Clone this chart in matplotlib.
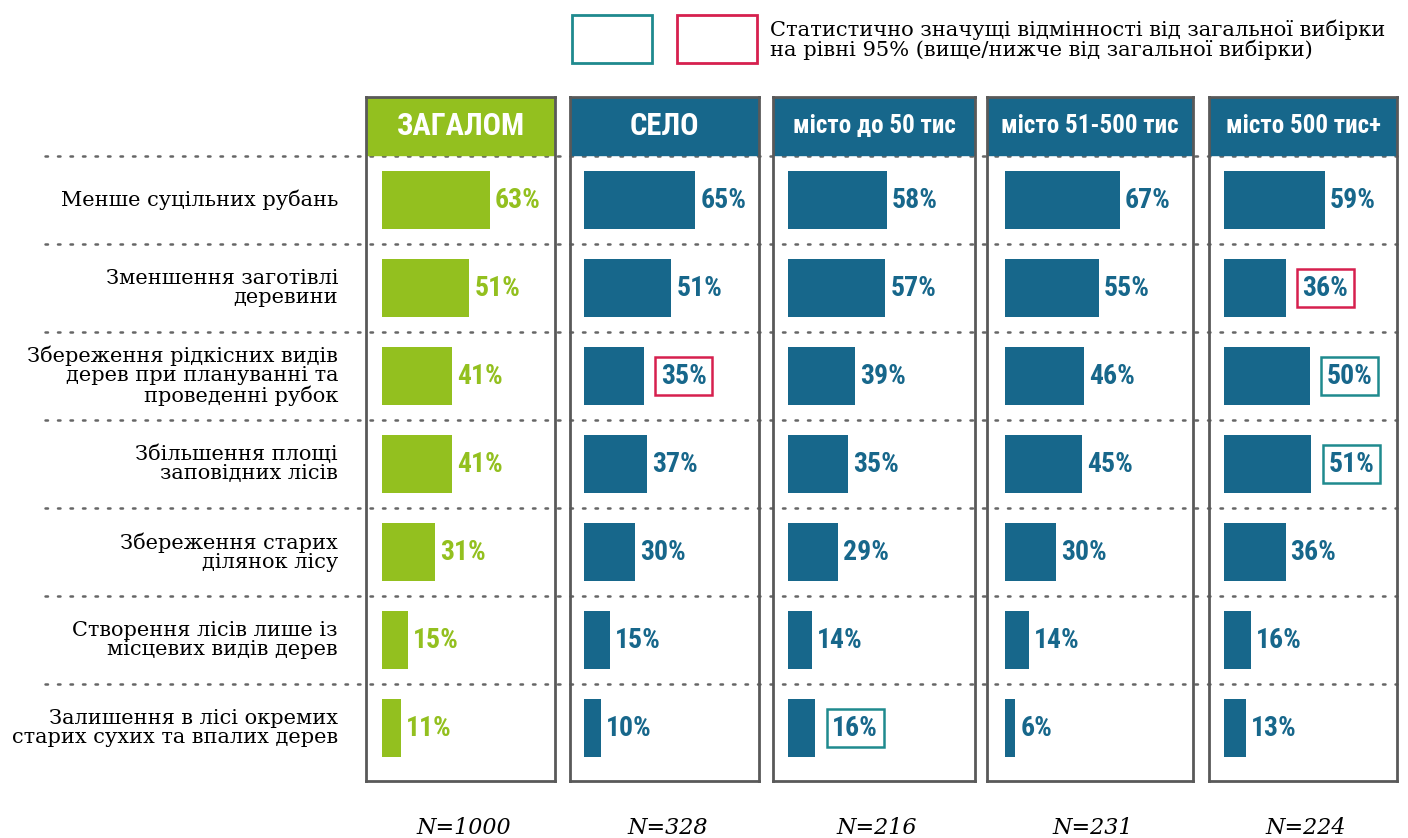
import matplotlib
matplotlib.use('Agg')
import matplotlib.pyplot as plt
from matplotlib.patches import Rectangle

plt.rcParams['font.family'] = ['DejaVu Serif']

# дані
items = [
    "Менше суцільних рубань",
    "Зменшення заготівлі\nдеревини",
    "Збереження рідкісних видів\nдерев при плануванні та\nпроведенні рубок",
    "Збільшення площі\nзаповідних лісів",
    "Збереження старих\nділянок лісу",
    "Створення лісів лише із\nмісцевих видів дерев",
    "Залишення в лісі окремих\nстарих сухих та впалих дерев",
]
groups = ["ЗАГАЛОМ", "СЕЛО", "місто до 50 тис", "місто 51-500 тис", "місто 500 тис+"]
n_sizes = ["N=1000", "N=328", "N=216", "N=231", "N=224"]
total = [63, 51, 41, 41, 31, 15, 11]
selo = [65, 51, 35, 37, 30, 15, 10]
misto_50 = [58, 57, 39, 35, 29, 14, 16]
misto_500 = [67, 55, 46, 45, 30, 14, 6]
misto_500p = [59, 36, 50, 51, 36, 16, 13]
values = [total, selo, misto_50, misto_500, misto_500p]
# значущі відмінності: (група, рядок) -> 'up' / 'down'
signif = {(1, 2): 'down', (4, 1): 'down', (4, 2): 'up', (4, 3): 'up', (2, 6): 'up'}

GREEN = '#93c01f'
BLUE = '#17678b'
TEAL = '#1f8a8e'
RED = '#d6204e'
GRAY = '#595959'

W, H = 1408, 838
k = 1.71  # px на 1%
row0, step = 200, 88
top, bottom = 97, 781
ylim = ((bottom - row0) / step, (top - row0) / step)
head_bot = (155 - row0) / step

panels = [(366, 555, 382), (570, 759, 584), (773, 975, 788), (987, 1193, 1005), (1209, 1397, 1224)]

fig = plt.figure(figsize=(W / 100, H / 100), dpi=100)
bg = fig.add_axes([0, 0, 1, 1])
bg.set_xlim(0, W)
bg.set_ylim((H - row0) / step, -row0 / step)
bg.axis('off')

rows = list(range(len(items)))
for i in rows:
    bg.plot([45, 1397], [i - 0.5, i - 0.5], ls=(0, (1, 4)), lw=1.8, color='#666666',
            dash_capstyle='round', zorder=0)
    bg.text(338, i, items[i], ha='right', va='center', fontsize=15, linespacing=1.03)

cond = ['Roboto Condensed', 'DejaVu Sans']
for p, (L, R, B) in enumerate(panels):
    ax = fig.add_axes([L / W, (H - bottom) / H, (R - L) / W, (bottom - top) / H])
    ax.set_facecolor('none')
    ax.set_xlim((L - B) / k, (R - B) / k)
    ax.set_ylim(*ylim)
    col = GREEN if p == 0 else BLUE
    ax.axhspan(ylim[1], head_bot, color=col, zorder=1)
    ax.text(((L - B) / k + (R - B) / k) / 2, (ylim[1] + head_bot) / 2, groups[p],
            ha='center', va='center', color='white', fontsize=22 if p < 2 else 18,
            fontweight='bold', family=cond)
    ax.barh(rows, values[p], height=0.65, color=col, zorder=2)
    for i, v in enumerate(values[p]):
        s = signif.get((p, i))
        if s:
            ec = TEAL if s == 'up' else RED
            ax.text(v + 17 / k, i, f'{v}%', ha='left', va='center', color=col, fontsize=20,
                    fontweight='bold', family=cond,
                    bbox=dict(boxstyle='square,pad=0.2', fc='white', ec=ec, lw=1.8))
        else:
            ax.text(v + 5 / k, i, f'{v}%', ha='left', va='center', color=col, fontsize=20,
                    fontweight='bold', family=cond)
    ax.set_xticks([])
    ax.set_yticks([])
    for sp in ax.spines.values():
        sp.set_color(GRAY)
        sp.set_linewidth(2)
        sp.set_zorder(5)
    fig.text((L + R) / 2 / W + 3 / W, 1 - 828 / H, n_sizes[p], ha='center', va='center',
             fontsize=16, style='italic')

# легенда
fig.patches.append(Rectangle((572 / W, 1 - 63 / H), 80 / W, 48 / H, fill=False, ec=TEAL, lw=2,
                             transform=fig.transFigure))
fig.patches.append(Rectangle((677 / W, 1 - 63 / H), 80 / W, 48 / H, fill=False, ec=RED, lw=2,
                             transform=fig.transFigure))
fig.text(770 / W, 1 - 40 / H, "Статистично значущі відмінності від загальної вибірки\n"
         "на рівні 95% (вище/нижче від загальної вибірки)", ha='left', va='center',
         fontsize=15.1, linespacing=0.95)

fig.savefig('out.png', dpi=100)
